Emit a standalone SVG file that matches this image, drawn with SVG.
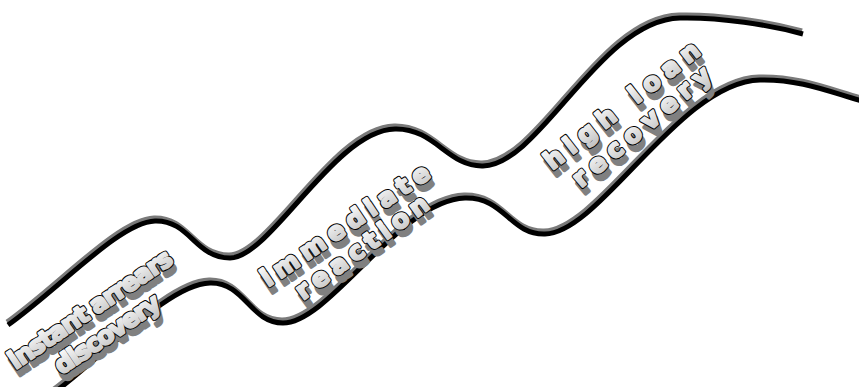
<svg xmlns="http://www.w3.org/2000/svg" width="859" height="387" viewBox="0 0 859 387">
<style>
.band-shade{fill:none;stroke:#7a7a7a;stroke-width:5;stroke-linecap:butt;filter:url(#soft)}
.band{fill:none;stroke:#000;stroke-width:5;stroke-linecap:butt}
.lbl{font-family:"DejaVu Sans",Verdana,sans-serif;font-weight:bold;font-size:25px;text-anchor:middle}
.sh{fill:#808080;stroke:#808080;stroke-width:3.6;stroke-linejoin:round}
.ol{fill:#000;stroke:#000;stroke-width:4.2;stroke-linejoin:round}
.fc{fill:url(#face);stroke:url(#face);stroke-width:2.2;stroke-linejoin:round}
</style>
<defs>
<filter id="soft" x="-5%" y="-5%" width="110%" height="110%"><feGaussianBlur stdDeviation="0.6"/></filter>
<linearGradient id="face" x1="0" y1="0" x2="0" y2="1"><stop offset="0" stop-color="#ffffff"/><stop offset="1" stop-color="#c2c2c2"/></linearGradient>
<path id="topCurve" d="M 8 325 C 60 288, 120 222, 155 221 C 190 220, 195 258, 230 258 C 270 258, 335 130, 395 129 C 435 128, 448 167, 483 166 C 540 165, 600 20, 680 18 C 720 17, 770 25, 803 34"/>
<path id="bottomCurve" d="M 55 392 C 110 350, 170 284, 210 283 C 245 282, 250 323, 283 323 C 330 323, 400 200, 465 198 C 505 197, 510 235, 545 234 C 600 233, 680 82, 760 80 C 800 79, 830 92, 862 101"/>
<g id="t1" class="lbl">
<text transform="translate(95,316) rotate(-34)" textLength="192" lengthAdjust="spacing">instant arrears</text>
<text transform="translate(112,341) rotate(-34)" textLength="122" lengthAdjust="spacing">discovery</text>
</g>
<g id="t2" class="lbl">
<text transform="translate(350,232) rotate(-34)" textLength="198" lengthAdjust="spacing">immediate</text>
<text transform="translate(367,254) rotate(-36)" textLength="158" lengthAdjust="spacing">reaction</text>
</g>
<g id="t3" class="lbl">
<text transform="translate(627,112) rotate(-38)" textLength="190" lengthAdjust="spacing">high loan</text>
<text transform="translate(647,133) rotate(-40)" textLength="172" lengthAdjust="spacing">recovery</text>
</g>
</defs>
<rect width="859" height="387" fill="#fff"/>
<g id="connectors">
<use href="#topCurve" class="band-shade" transform="translate(-1,-3)"/>
<use href="#topCurve" class="band"/>
<use href="#bottomCurve" class="band-shade" transform="translate(-1,-3)"/>
<use href="#bottomCurve" class="band"/>
</g>
<g id="node-instant-arrears-discovery">
<use href="#t1" class="sh" transform="translate(3,7)"/>
<use href="#t1" class="ol"/>
<use href="#t1" class="fc"/>
</g>
<g id="node-immediate-reaction">
<use href="#t2" class="sh" transform="translate(3,7)"/>
<use href="#t2" class="ol"/>
<use href="#t2" class="fc"/>
</g>
<g id="node-high-loan-recovery">
<use href="#t3" class="sh" transform="translate(3,7)"/>
<use href="#t3" class="ol"/>
<use href="#t3" class="fc"/>
</g>
</svg>
